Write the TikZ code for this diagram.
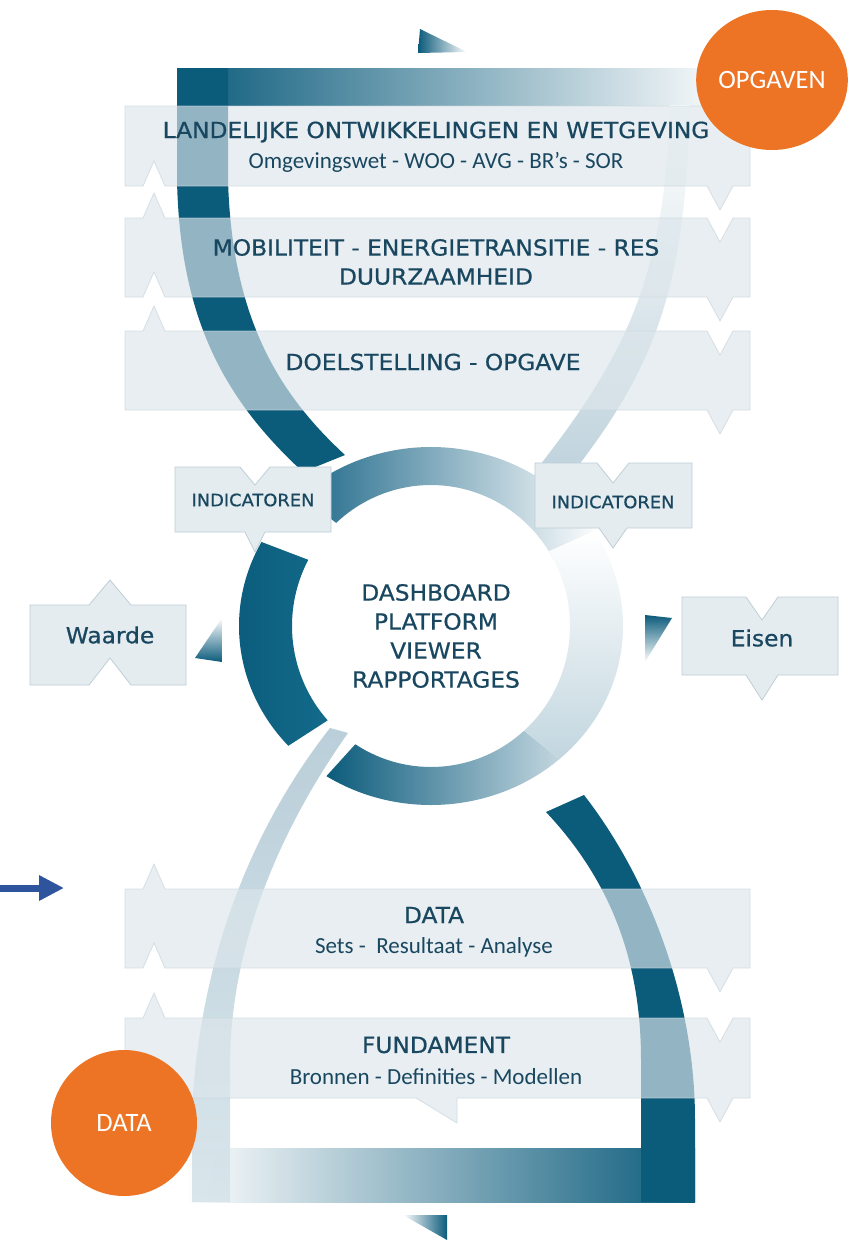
\documentclass[tikz,border=0pt]{standalone}
\usepackage{fontspec}
\setmainfont{Carlito}
\newfontfamily\capsfont{DejaVu Sans}[FakeStretch=1.05, FakeBold=0.7]
\usetikzlibrary{calc,arrows.meta,shapes.geometric}

\definecolor{dkteal}{HTML}{0B5B7B}
\definecolor{ringmid}{HTML}{20698A}
\definecolor{ringdk}{HTML}{136A8A}
\definecolor{ringpale}{HTML}{C2D6DF}
\definecolor{paleteal}{HTML}{B3CAD6}
\definecolor{palelight}{HTML}{D6E4EA}
\definecolor{boxfill}{HTML}{DCE6EB}
\definecolor{boxline}{HTML}{C9D6DD}
\definecolor{tagfill}{HTML}{E4ECF0}
\definecolor{tagline}{HTML}{BFCFD7}
\definecolor{ink}{HTML}{1A4760}
\definecolor{orng}{HTML}{EC7424}
\definecolor{arrowblue}{HTML}{2E549E}

% ring segment between two angles
\newcommand{\ringseg}[2]{($(ctr)+(#1:192 and 179)$) arc[start angle=#1, end angle=#2, x radius=192, y radius=179] -- ($(ctr)+(#2:139 and 141)$) arc[start angle=#2, end angle=#1, x radius=139, y radius=141] -- cycle}
% long strips with their tabs
\newcommand{\stripbox}[4]{(125,#1) #3 -- (750,#1) -- (750,#2) #4 -- (125,#2) -- cycle}
\newcommand{\tabTL}[1]{-- (143,#1) -- (154,#1-25) -- (165,#1)}
\newcommand{\tabTR}[1]{-- (707,#1) -- (720,#1+24) -- (733,#1)}
\newcommand{\tabBR}[1]{-- (733,#1) -- (720,#1+24) -- (707,#1)}
\newcommand{\tabBL}[1]{-- (165,#1) -- (154,#1-25) -- (143,#1)}

\begin{document}
\begin{tikzpicture}[x=1pt, y=-1pt,
  title/.style={font=\capsfont\fontsize{22.2}{29}\selectfont, text=ink, align=center},
  sub/.style={font=\fontsize{23}{26}\selectfont, text=ink},
  tag/.style={font=\capsfont\fontsize{17}{19}\selectfont, text=ink},
  strip/.style={fill=boxfill, fill opacity=0.65, draw=boxline, draw opacity=0.7, line width=0.8pt},
  flag/.style={fill=tagfill, draw=tagline, line width=0.8pt},
  disc/.style={fill=orng, text=white, inner sep=0pt, font=\fontsize{26.5}{28}\selectfont}]
  \fill[white] (0,0) rectangle (859,1240);
  \useasboundingbox (0,0) rectangle (859,1240);
  \coordinate (ctr) at (431,626);
  % upper loop
  \shade[left color=dkteal, right color=white] (177,68) rectangle (735,105);
  \fill[dkteal] (177,68) -- (177,180) .. controls (180,320) and (225,400) .. (303,472) -- (345,455) .. controls (280,395) and (232,320) .. (228,180) -- (228,68) -- cycle;
  \shade[left color=dkteal, right color=white] (418,53) -- (420,29) -- (467,52) -- cycle;
  \shade[top color=white, bottom color=paleteal] (690,105) .. controls (685,280) and (660,360) .. (575,470) -- (570,545) -- (530,522) -- (540,465) .. controls (630,350) and (665,270) .. (670,105) -- cycle;
  % lower loop
  \shade[left color=white, right color=dkteal] (185,1148) rectangle (695,1202);
  \fill[dkteal] (584,795) .. controls (650,880) and (695,1000) .. (695,1120) -- (695,1202) -- (641,1202) -- (641,1060) .. controls (641,960) and (610,880) .. (546,812) -- cycle;
  \shade[top color=paleteal, bottom color=palelight, opacity=0.9] (330,728) .. controls (250,830) and (200,960) .. (192,1110) -- (192,1202) -- (230,1202) -- (230,1060) .. controls (232,930) and (290,815) .. (348,733) -- cycle;
  \shade[left color=white, right color=dkteal] (403,1215) -- (447,1215) -- (447,1240) -- cycle;
  % ring
  \shade[left color=ringmid, right color=white] \ringseg{-133}{-28};
  \shade[left color=dkteal, right color=ringdk] \ringseg{138}{208};
  \shade[left color=dkteal, right color=ringpale] \ringseg{48}{123};
  \shade[top color=white, bottom color=ringpale] \ringseg{-32}{48};
  % strips
  \path[strip] \stripbox{106}{186}{\tabTR{106}}{\tabBR{186}\tabBL{186}};
  \path[strip] \stripbox{218}{297}{\tabTL{218}\tabTR{218}}{\tabBR{297}\tabBL{297}};
  \path[strip] \stripbox{331}{410}{\tabTL{331}\tabTR{331}}{\tabBR{410}};
  \path[strip] \stripbox{889}{968}{\tabTL{889}}{\tabBR{968}\tabBL{968}};
  \path[strip] \stripbox{1018}{1098}{\tabTL{1018}\tabTR{1018}}{\tabBR{1098} -- (457,1098) -- (457,1123) -- (416,1098) \tabBL{1098}};
  % flags
  \path[flag] (175,467) -- (240,467) -- (255,485) -- (270,467) -- (331,467) -- (331,532) -- (265,532) -- (255,552) -- (245,532) -- (175,532) -- cycle;
  \path[flag] (535,463) -- (597,463) -- (613,483) -- (629,463) -- (692,463) -- (692,528) -- (627,528) -- (613,548) -- (599,528) -- (535,528) -- cycle;
  \path[flag] (30,605) -- (89,605) -- (110,580) -- (131,605) -- (186,605) -- (186,685) -- (131,685) -- (110,658) -- (89,685) -- (30,685) -- cycle;
  \path[flag] (682,597) -- (746,597) -- (762,620) -- (778,597) -- (838,597) -- (838,675) -- (778,675) -- (762,700) -- (746,675) -- (682,675) -- cycle;
  \shade[top color=white, bottom color=dkteal] (222,618) -- (222,662) -- (195,658) -- cycle;
  \shade[top color=dkteal, bottom color=white] (645,615) -- (672,618) -- (645,662) -- cycle;
  % nodes
  \node[title] (landelijk) at (436,132) {LANDELIJKE ONTWIKKELINGEN EN WETGEVING};
  \node[sub] (landelijksub) at (436,162) {Omgevingswet - WOO - AVG - BR’s - SOR};
  \node[title] (mobiliteit) at (436,262) {MOBILITEIT - ENERGIETRANSITIE - RES\\DUURZAAMHEID};
  \node[title] (doel) at (433,362) {DOELSTELLING - OPGAVE};
  \node[tag] (indleft) at (253,500) {INDICATOREN};
  \node[tag] (indright) at (613,502) {INDICATOREN};
  \node[title] (dash) at (436,636) {DASHBOARD\\PLATFORM\\VIEWER\\RAPPORTAGES};
  \node[title] (waarde) at (110,635) {Waarde};
  \node[title] (eisen) at (762,638) {Eisen};
  \node[title] (datahead) at (434,915) {DATA};
  \node[sub] (datasub) at (434,947) {Sets -\ \ Resultaat - Analyse};
  \node[title] (fundament) at (436,1045) {FUNDAMENT};
  \node[sub] (fundamentsub) at (436,1077) {Bronnen - Definities - Modellen};
  \node[disc, ellipse, minimum width=126pt, minimum height=140pt] (opgaven) at (772,80) {OPGAVEN};
  \node[disc, circle, minimum size=146pt] (datadisc) at (124,1123) {DATA};
  % edges
  \coordinate (arrowtail) at (0,888);
  \coordinate (arrowtip) at (64,888);
  \draw[-{Triangle[length=25pt,width=24pt]}, line width=7pt, arrowblue] (arrowtail) -- (arrowtip);
\end{tikzpicture}
\end{document}
